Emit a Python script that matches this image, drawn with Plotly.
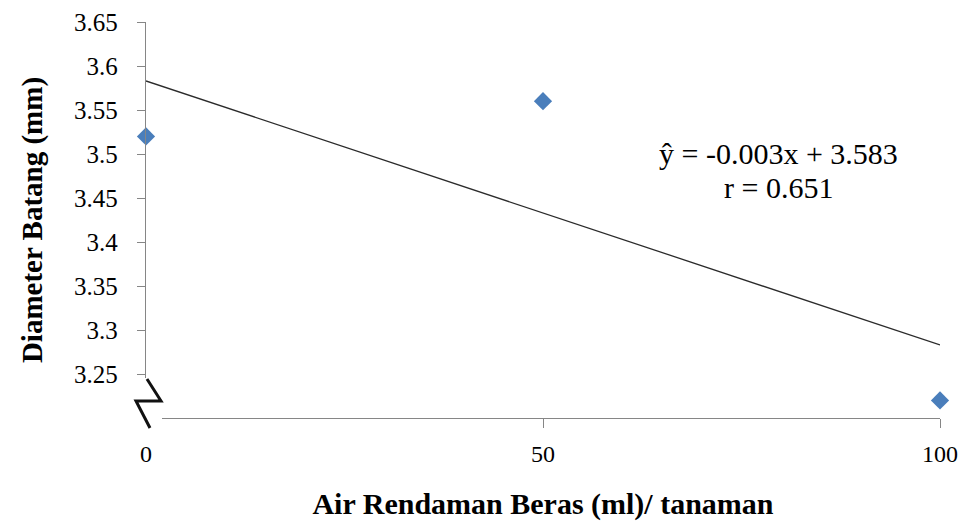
import plotly.graph_objects as go

# Data
x_vals = [0, 50, 100]
y_vals = [3.52, 3.56, 3.22]
trend_x = [0, 100]
trend_y = [3.583, 3.283]
y_ticks = [3.25, 3.3, 3.35, 3.4, 3.45, 3.5, 3.55, 3.6, 3.65]
x_ticks = [0, 50, 100]
equation = "ŷ = -0.003x + 3.583"
r_text = "r = 0.651"

W, H = 967, 521
L, R, T, B = 146, 27, 22, 103
pw, ph = W - L - R, H - T - B

def px(xp):
    return (xp - L) / pw

def py(yp):
    return 1 - (yp - T) / ph

FONT = "Liberation Serif"
AX = "#868686"

fig = go.Figure()
fig.add_trace(go.Scatter(x=trend_x, y=trend_y, mode="lines",
                         line=dict(color="#2b2b2b", width=1.3),
                         showlegend=False, cliponaxis=False, hoverinfo="skip"))
fig.add_trace(go.Scatter(x=x_vals, y=y_vals, mode="markers",
                         marker=dict(symbol="diamond", size=14, color="#4a7ebb"),
                         showlegend=False, cliponaxis=False))

shapes = [
    # white box hiding the axis lines at the break
    dict(type="rect", xref="paper", yref="paper",
         x0=px(128), x1=px(162), y0=py(433), y1=py(378),
         fillcolor="white", line=dict(width=0), layer="above"),
    # zigzag break symbol
    dict(type="path", xref="paper", yref="paper",
         path=f"M {px(147)},{py(379)} L {px(161)},{py(401)} L {px(136)},{py(401)} L {px(150)},{py(428)}",
         line=dict(color="#111111", width=3), layer="above"),
]

fig.update_layout(
    width=W, height=H,
    margin=dict(l=L, r=R, t=T, b=B, autoexpand=False),
    paper_bgcolor="white", plot_bgcolor="white",
    font=dict(family=FONT, color="black"),
    shapes=shapes,
    xaxis=dict(range=[0, 100], tickvals=x_ticks, ticks="outside", ticklen=9,
               tickcolor=AX, showline=True, linecolor=AX, linewidth=1.3,
               showgrid=False, zeroline=False, tickfont=dict(size=24, family=FONT),
               ticklabelstandoff=5, automargin=False,
               title=dict(text="<b>Air Rendaman Beras (ml)/ tanaman</b>",
                          font=dict(size=30, family=FONT), standoff=30)),
    yaxis=dict(range=[3.2, 3.65], tickvals=y_ticks, ticks="outside", ticklen=8,
               tickcolor=AX, showline=True, linecolor=AX, linewidth=1.3,
               showgrid=False, zeroline=False, tickfont=dict(size=25, family=FONT),
               ticklabelstandoff=14, automargin=False,
               title=dict(text="<b>Diameter Batang (mm)</b>",
                          font=dict(size=29, family=FONT), standoff=22)),
    annotations=[
        dict(text=equation, xref="paper", yref="paper", x=px(778), y=py(153),
             xanchor="center", yanchor="middle",
             showarrow=False, font=dict(size=30, family=FONT)),
        dict(text=r_text, xref="paper", yref="paper", x=px(778), y=py(188),
             xanchor="center", yanchor="middle",
             showarrow=False, font=dict(size=30, family=FONT)),
    ],
)

fig.write_html("out.html", config={"displayModeBar": False},
               post_script="document.body.style.margin='0';")
